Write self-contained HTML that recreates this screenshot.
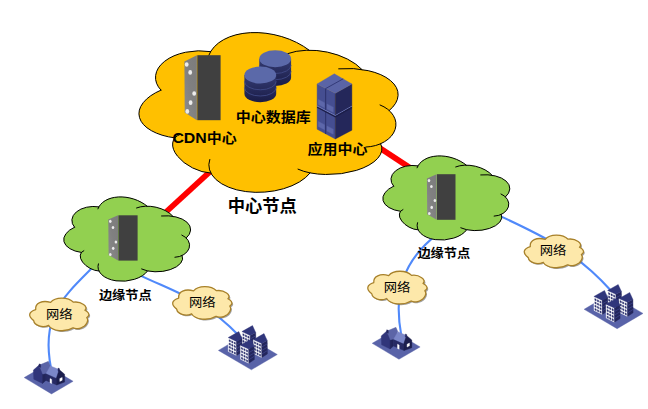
<!DOCTYPE html>
<html lang="zh-CN"><head><meta charset="utf-8"><title>CDN</title>
<style>
html,body{margin:0;padding:0;background:#fff;}
body{width:648px;height:409px;overflow:hidden;}
svg text{font-family:"Liberation Sans","Noto Sans CJK SC",sans-serif;fill:#000;}
</style></head><body>
<svg width="648" height="409" viewBox="0 0 648 409" style="display:block">
<defs>
<linearGradient id="sg" x1="0" y1="1" x2="1" y2="0"><stop offset="0" stop-color="#8c8c8c"/><stop offset="0.5" stop-color="#808080"/><stop offset="1" stop-color="#7c7c7c"/></linearGradient>
<linearGradient id="cg" x1="0" y1="0" x2="0" y2="1"><stop offset="0" stop-color="#343b72"/><stop offset="1" stop-color="#1a1c47"/></linearGradient>
<path id="cf" d="M160.97 90.14A43.08 25.93 178.36 0 1 210.58 51.60L210.58 51.60A61.82 39.31 -165.74 0 1 309.03 50.08L309.03 50.10A50.01 28.24 -170.07 0 1 361.92 69.47L361.93 69.46A54.31 28.09 177.27 0 1 389.22 110.49L389.24 110.48A30.97 22.36 178.51 0 1 380.67 143.77L380.67 143.79A48.47 22.47 175.67 0 1 310.16 172.93L310.16 172.91A53.03 29.15 176.67 0 1 210.69 173.06L210.71 173.06A29.51 16.50 -152.87 0 1 174.80 137.87L174.78 137.87A53.29 27.55 175.97 0 1 160.97 90.13Z" vector-effect="non-scaling-stroke"/>
<path id="cs" d="M160.97 90.14A43.08 25.93 178.36 0 1 210.58 51.60M208.79 55.34A61.82 39.31 -165.74 0 1 309.17 50.18M287.67 53.63A50.01 28.24 -170.07 0 1 361.92 69.47M338.69 68.80A54.31 28.09 177.27 0 1 389.22 110.49M380.05 104.96A30.97 22.36 178.51 0 1 366.00 147.02M380.67 143.79A48.47 22.47 175.67 0 1 298.02 169.19M310.16 172.91A53.03 29.15 176.67 0 1 209.76 159.47M210.71 173.06A29.51 16.50 -152.87 0 1 179.97 134.47M174.78 137.87A53.29 27.55 175.97 0 1 160.97 90.13" vector-effect="non-scaling-stroke" stroke-linecap="round"/>
<path id="bf" d="M528.30 257.50A23.09 9.03 -170.12 0 1 530.32 246.41L530.31 246.40A14.22 9.20 -157.35 0 1 545.20 239.30L545.20 239.30A13.18 8.36 -177.60 0 1 568.10 239.10L568.10 239.10A8.51 4.47 -167.67 0 1 579.50 247.10L579.50 247.10C579.92 247.38 581.33 248.12 582.00 248.80C582.67 249.48 583.32 250.53 583.50 251.20C583.68 251.87 583.45 252.27 583.10 252.80C582.75 253.33 581.68 254.13 581.40 254.40L581.40 254.40C581.55 254.78 582.25 255.87 582.30 256.70C582.35 257.53 582.07 258.53 581.70 259.40C581.33 260.27 580.60 261.28 580.10 261.90C579.60 262.52 578.93 262.90 578.70 263.10L578.70 263.10C578.23 263.37 576.92 264.28 575.90 264.70C574.88 265.12 573.72 265.50 572.60 265.60C571.48 265.70 570.03 265.45 569.20 265.30C568.37 265.15 567.87 264.80 567.60 264.70L567.60 264.70A14.75 8.61 177.10 0 1 543.14 262.19L543.11 262.21A9.19 6.10 -177.97 0 1 528.31 257.50Z"/>
<filter id="blur" x="-20%" y="-20%" width="140%" height="140%"><feGaussianBlur stdDeviation="0.7"/></filter>
</defs>
<rect width="648" height="409" fill="#fff"/>
<line x1="159.45" y1="218" x2="215.45" y2="166.7" stroke="#ff0000" stroke-width="5.7"/>
<line x1="372" y1="142.85" x2="416" y2="171.75" stroke="#ff0000" stroke-width="5.7"/>
<path d="M98.62 261.36 C63.99 296.48 40.29 313.73 51.09 368.70" fill="none" stroke="#5089fa" stroke-width="2.1" stroke-linecap="round"/>
<path d="M135.78 273.33 C176.49 292.99 204.85 299.78 238.52 335.32" fill="none" stroke="#5089fa" stroke-width="2.1" stroke-linecap="round"/>
<path d="M438.94 232.84 C402.07 260.94 393.31 293.09 401.41 336.32" fill="none" stroke="#5089fa" stroke-width="2.1" stroke-linecap="round"/>
<path d="M491.08 211.90 C540.83 234.52 574.97 250.43 611.56 291.26" fill="none" stroke="#5089fa" stroke-width="2.1" stroke-linecap="round"/>
<g transform="translate(138.940 32.350) scale(1.00000 1.00000) translate(-138.940 -32.350)"><use href="#cf" fill="#ffc000"/><use href="#cs" fill="none" stroke="#000" stroke-width="1.0"/></g>
<polygon points="184.40,61.60 196.90,55.20 196.90,120.20 184.70,112.40" fill="url(#sg)" /><rect x="197.30" y="55.20" width="23.30" height="65.00" fill="#404040"/><ellipse cx="186.70" cy="64.50" rx="1.88" ry="2.35" fill="#ececec"/><ellipse cx="190.20" cy="72.40" rx="1.88" ry="2.35" fill="#ececec"/><ellipse cx="194.20" cy="93.50" rx="1.88" ry="2.35" fill="#ececec"/><ellipse cx="190.60" cy="102.70" rx="1.88" ry="2.35" fill="#ececec"/><ellipse cx="187.30" cy="111.40" rx="1.88" ry="2.35" fill="#ececec"/>
<path d="M259.30 58.80 v18.60 a15.90 8.50 0 0 0 31.80 0 v-18.60 z" fill="url(#cg)"/><path d="M259.30 65.00 a15.90 8.50 0 0 0 31.80 0" fill="none" stroke="#434c8a" stroke-width="0.8"/><path d="M259.30 71.20 a15.90 8.50 0 0 0 31.80 0" fill="none" stroke="#434c8a" stroke-width="0.8"/><ellipse cx="275.20" cy="58.80" rx="15.90" ry="8.50" fill="#5b69a9"/>
<path d="M244.40 75.10 v18.60 a15.90 8.50 0 0 0 31.80 0 v-18.60 z" fill="url(#cg)"/><path d="M244.40 81.30 a15.90 8.50 0 0 0 31.80 0" fill="none" stroke="#434c8a" stroke-width="0.8"/><path d="M244.40 87.50 a15.90 8.50 0 0 0 31.80 0" fill="none" stroke="#434c8a" stroke-width="0.8"/><ellipse cx="260.30" cy="75.10" rx="15.90" ry="8.50" fill="#5b69a9"/>
<polygon points="317.10,84.00 335.30,93.30 335.30,139.00 317.10,129.20" fill="#454e91" stroke="#454e91" stroke-width="0.4" stroke-linejoin="round" /><polygon points="335.30,93.30 351.90,84.00 351.90,130.20 335.30,139.00" fill="#24275a" stroke="#24275a" stroke-width="0.4" stroke-linejoin="round" /><polygon points="317.10,84.00 334.30,73.80 351.90,84.00 335.30,93.30" fill="#5a64a6" stroke="#5a64a6" stroke-width="0.4" stroke-linejoin="round" /><line x1="325.6" y1="88.6" x2="343.2" y2="78.8" stroke="#333a78" stroke-width="1"/><line x1="325.6" y1="88.6" x2="325.6" y2="134" stroke="#2f3570" stroke-width="1.2"/><path d="M317.1 106 L335.3 115.6 L351.9 106.2" fill="none" stroke="#7580c0" stroke-width="0.9"/><path d="M317.1 107.2 L335.3 116.8 L351.9 107.4" fill="none" stroke="#1b1d48" stroke-width="1.3"/><polygon points="318.30,99.50 324.50,102.70 324.50,107.70 318.30,104.50" fill="#5d67aa" stroke="#5d67aa" stroke-width="0.4" stroke-linejoin="round" /><polygon points="327.00,104.00 333.20,107.20 333.20,112.20 327.00,109.00" fill="#5d67aa" stroke="#5d67aa" stroke-width="0.4" stroke-linejoin="round" /><polygon points="318.30,121.50 324.50,124.70 324.50,129.70 318.30,126.50" fill="#5d67aa" stroke="#5d67aa" stroke-width="0.4" stroke-linejoin="round" /><polygon points="327.00,126.00 333.20,129.20 333.20,134.20 327.00,131.00" fill="#5d67aa" stroke="#5d67aa" stroke-width="0.4" stroke-linejoin="round" />
<g transform="translate(63.700 196.700) scale(0.48991 0.52833) translate(-138.940 -32.350)"><use href="#cf" fill="#92d050"/><use href="#cs" fill="none" stroke="#000" stroke-width="1.0"/></g>
<g transform="translate(382.800 155.700) scale(0.49030 0.52708) translate(-138.940 -32.350)"><use href="#cf" fill="#92d050"/><use href="#cs" fill="none" stroke="#000" stroke-width="1.0"/></g>
<polygon points="108.30,219.60 118.00,215.30 118.00,260.60 108.60,255.00" fill="url(#sg)" /><rect x="118.40" y="215.30" width="19.20" height="45.30" fill="#404040"/><ellipse cx="110.30" cy="221.30" rx="1.28" ry="1.60" fill="#ececec"/><ellipse cx="113.00" cy="227.50" rx="1.28" ry="1.60" fill="#ececec"/><ellipse cx="115.90" cy="242.00" rx="1.28" ry="1.60" fill="#ececec"/><ellipse cx="113.20" cy="248.30" rx="1.28" ry="1.60" fill="#ececec"/><ellipse cx="110.30" cy="254.50" rx="1.28" ry="1.60" fill="#ececec"/>
<polygon points="426.90,178.50 436.60,174.20 436.60,219.80 427.20,214.30" fill="url(#sg)" /><rect x="437.00" y="174.20" width="18.50" height="45.60" fill="#404040"/><ellipse cx="429.00" cy="180.60" rx="1.28" ry="1.60" fill="#ececec"/><ellipse cx="431.40" cy="186.50" rx="1.28" ry="1.60" fill="#ececec"/><ellipse cx="434.90" cy="200.50" rx="1.28" ry="1.60" fill="#ececec"/><ellipse cx="431.70" cy="207.40" rx="1.28" ry="1.60" fill="#ececec"/><ellipse cx="429.30" cy="213.50" rx="1.28" ry="1.60" fill="#ececec"/>
<g transform="translate(-494.60 63.10)"><use href="#bf" fill="#666" opacity="0.6" transform="translate(1.2 1.3)" filter="url(#blur)"/><use href="#bf" fill="#fde8aa" stroke="#a8812a" stroke-width="1.3" stroke-linejoin="round"/></g>
<text transform="translate(59.30 318.80) scale(1.080 1)" font-size="12.3" font-weight="normal" text-anchor="middle">网络</text>
<g transform="translate(-351.60 51.60)"><use href="#bf" fill="#666" opacity="0.6" transform="translate(1.2 1.3)" filter="url(#blur)"/><use href="#bf" fill="#fde8aa" stroke="#a8812a" stroke-width="1.3" stroke-linejoin="round"/></g>
<text transform="translate(202.20 306.80) scale(1.080 1)" font-size="12.3" font-weight="normal" text-anchor="middle">网络</text>
<g transform="translate(-156.50 36.30)"><use href="#bf" fill="#666" opacity="0.6" transform="translate(1.2 1.3)" filter="url(#blur)"/><use href="#bf" fill="#fde8aa" stroke="#a8812a" stroke-width="1.3" stroke-linejoin="round"/></g>
<text transform="translate(397.10 291.70) scale(1.080 1)" font-size="12.3" font-weight="normal" text-anchor="middle">网络</text>
<g transform="translate(0.00 0.10)"><use href="#bf" fill="#666" opacity="0.6" transform="translate(1.2 1.3)" filter="url(#blur)"/><use href="#bf" fill="#fde8aa" stroke="#a8812a" stroke-width="1.3" stroke-linejoin="round"/></g>
<text transform="translate(553.10 255.30) scale(1.080 1)" font-size="12.3" font-weight="normal" text-anchor="middle">网络</text>
<polygon points="24.20,377.60 45.80,365.00 73.10,381.30 51.50,393.90" fill="#5963a8" stroke="#5963a8" stroke-width="0.4" stroke-linejoin="round" /><polygon points="38.80,365.30 48.40,361.30 50.40,365.90 45.90,373.80 42.50,374.60" fill="#5c65a7" stroke="#5c65a7" stroke-width="0.4" stroke-linejoin="round" /><polygon points="33.40,370.10 38.80,365.30 42.50,374.60 42.50,383.40 33.80,379.20" fill="#30357a" stroke="#30357a" stroke-width="0.4" stroke-linejoin="round" /><polygon points="42.50,374.60 45.90,373.80 45.90,380.40 42.50,383.40" fill="#22255a" stroke="#22255a" stroke-width="0.4" stroke-linejoin="round" /><polygon points="50.40,365.90 59.20,369.60 56.30,378.40 45.90,373.80" fill="#7b87c8" stroke="#7b87c8" stroke-width="0.4" stroke-linejoin="round" /><polygon points="45.90,373.80 56.30,378.40 56.70,385.00 45.90,380.40" fill="#272a63" stroke="#272a63" stroke-width="0.4" stroke-linejoin="round" /><polygon points="56.30,378.40 59.20,369.60 64.60,374.20 64.60,382.10 56.70,385.00" fill="#1c1e4d" stroke="#1c1e4d" stroke-width="0.4" stroke-linejoin="round" /><polygon points="50.00,378.60 51.70,379.40 51.70,383.60 50.00,382.80" fill="#ffffff" stroke="#ffffff" stroke-width="0.4" stroke-linejoin="round" /><polygon points="59.80,378.60 62.20,377.40 62.20,380.20 59.80,381.40" fill="#ffffff" stroke="#ffffff" stroke-width="0.4" stroke-linejoin="round" /><polygon points="39.00,363.90 40.60,364.30 40.60,367.40 39.00,366.70" fill="#23265e" stroke="#23265e" stroke-width="0.4" stroke-linejoin="round" /><polygon points="58.00,368.10 59.40,368.60 59.40,371.90 58.00,371.20" fill="#23265e" stroke="#23265e" stroke-width="0.4" stroke-linejoin="round" />
<polygon points="372.20,343.30 393.37,330.95 420.12,346.93 398.95,359.27" fill="#5963a8" stroke="#5963a8" stroke-width="0.4" stroke-linejoin="round" /><polygon points="386.51,331.25 395.92,327.33 397.88,331.83 393.47,339.58 390.13,340.36" fill="#5c65a7" stroke="#5c65a7" stroke-width="0.4" stroke-linejoin="round" /><polygon points="381.22,335.95 386.51,331.25 390.13,340.36 390.13,348.98 381.61,344.87" fill="#30357a" stroke="#30357a" stroke-width="0.4" stroke-linejoin="round" /><polygon points="390.13,340.36 393.47,339.58 393.47,346.04 390.13,348.98" fill="#22255a" stroke="#22255a" stroke-width="0.4" stroke-linejoin="round" /><polygon points="397.88,331.83 406.50,335.46 403.66,344.08 393.47,339.58" fill="#7b87c8" stroke="#7b87c8" stroke-width="0.4" stroke-linejoin="round" /><polygon points="393.47,339.58 403.66,344.08 404.05,350.55 393.47,346.04" fill="#272a63" stroke="#272a63" stroke-width="0.4" stroke-linejoin="round" /><polygon points="403.66,344.08 406.50,335.46 411.79,339.97 411.79,347.71 404.05,350.55" fill="#1c1e4d" stroke="#1c1e4d" stroke-width="0.4" stroke-linejoin="round" /><polygon points="397.48,344.28 399.15,345.06 399.15,349.18 397.48,348.40" fill="#ffffff" stroke="#ffffff" stroke-width="0.4" stroke-linejoin="round" /><polygon points="407.09,344.28 409.44,343.10 409.44,345.85 407.09,347.02" fill="#ffffff" stroke="#ffffff" stroke-width="0.4" stroke-linejoin="round" /><polygon points="386.70,329.87 388.27,330.27 388.27,333.30 386.70,332.62" fill="#23265e" stroke="#23265e" stroke-width="0.4" stroke-linejoin="round" /><polygon points="405.32,333.99 406.70,334.48 406.70,337.71 405.32,337.03" fill="#23265e" stroke="#23265e" stroke-width="0.4" stroke-linejoin="round" />
<polygon points="218.40,350.40 244.30,335.10 277.30,354.50 251.40,369.80" fill="#5963a8" stroke="#5963a8" stroke-width="0.4" stroke-linejoin="round" /><polygon points="241.90,331.60 250.20,335.40 250.30,349.60 242.00,345.50" fill="#ffffff" stroke="#ffffff" stroke-width="0.4" stroke-linejoin="round" /><polygon points="250.20,335.40 255.70,332.50 255.90,345.90 250.30,349.60" fill="#23265c" stroke="#23265c" stroke-width="0.4" stroke-linejoin="round" /><polygon points="242.83,333.69 244.15,334.30 244.17,335.98 242.84,335.36" fill="#2b2f6e" stroke="#2b2f6e" stroke-width="0.4" stroke-linejoin="round" /><polygon points="245.31,334.84 246.64,335.45 246.66,337.14 245.33,336.52" fill="#2b2f6e" stroke="#2b2f6e" stroke-width="0.4" stroke-linejoin="round" /><polygon points="247.81,335.99 249.13,336.61 249.15,338.30 247.82,337.69" fill="#2b2f6e" stroke="#2b2f6e" stroke-width="0.4" stroke-linejoin="round" /><polygon points="242.85,336.96 244.18,337.59 244.19,339.27 242.86,338.64" fill="#2b2f6e" stroke="#2b2f6e" stroke-width="0.4" stroke-linejoin="round" /><polygon points="245.34,338.14 246.67,338.76 246.68,340.45 245.35,339.82" fill="#2b2f6e" stroke="#2b2f6e" stroke-width="0.4" stroke-linejoin="round" /><polygon points="247.83,339.31 249.16,339.93 249.17,341.63 247.84,341.00" fill="#2b2f6e" stroke="#2b2f6e" stroke-width="0.4" stroke-linejoin="round" /><polygon points="242.87,340.24 244.20,340.87 244.21,342.55 242.88,341.91" fill="#2b2f6e" stroke="#2b2f6e" stroke-width="0.4" stroke-linejoin="round" /><polygon points="245.36,341.43 246.69,342.07 246.70,343.76 245.37,343.11" fill="#2b2f6e" stroke="#2b2f6e" stroke-width="0.4" stroke-linejoin="round" /><polygon points="247.85,342.62 249.18,343.26 249.19,344.96 247.86,344.32" fill="#2b2f6e" stroke="#2b2f6e" stroke-width="0.4" stroke-linejoin="round" /><polygon points="242.90,343.51 244.22,344.16 244.24,345.84 242.91,345.18" fill="#2b2f6e" stroke="#2b2f6e" stroke-width="0.4" stroke-linejoin="round" /><polygon points="245.39,344.73 246.71,345.37 246.73,347.06 245.40,346.41" fill="#2b2f6e" stroke="#2b2f6e" stroke-width="0.4" stroke-linejoin="round" /><polygon points="247.88,345.94 249.20,346.59 249.22,348.29 247.89,347.63" fill="#2b2f6e" stroke="#2b2f6e" stroke-width="0.4" stroke-linejoin="round" /><line x1="250.23" y1="338.95" x2="255.75" y2="335.85" stroke="#3a4085" stroke-width="0.9"/><line x1="250.25" y1="342.50" x2="255.80" y2="339.20" stroke="#3a4085" stroke-width="0.9"/><line x1="250.28" y1="346.05" x2="255.85" y2="342.55" stroke="#3a4085" stroke-width="0.9"/><polygon points="241.90,331.60 252.50,325.60 255.70,332.50 250.20,335.40" fill="#30367b" stroke="#30367b" stroke-width="0.4" stroke-linejoin="round" /><polygon points="228.20,337.60 236.50,341.40 236.60,355.60 228.30,351.50" fill="#ffffff" stroke="#ffffff" stroke-width="0.4" stroke-linejoin="round" /><polygon points="236.50,341.40 242.00,338.50 242.20,351.90 236.60,355.60" fill="#23265c" stroke="#23265c" stroke-width="0.4" stroke-linejoin="round" /><polygon points="229.13,339.69 230.45,340.30 230.47,341.98 229.14,341.36" fill="#2b2f6e" stroke="#2b2f6e" stroke-width="0.4" stroke-linejoin="round" /><polygon points="231.62,340.84 232.94,341.45 232.96,343.14 231.63,342.52" fill="#2b2f6e" stroke="#2b2f6e" stroke-width="0.4" stroke-linejoin="round" /><polygon points="234.11,341.99 235.43,342.61 235.45,344.30 234.12,343.69" fill="#2b2f6e" stroke="#2b2f6e" stroke-width="0.4" stroke-linejoin="round" /><polygon points="229.15,342.96 230.48,343.59 230.49,345.27 229.16,344.64" fill="#2b2f6e" stroke="#2b2f6e" stroke-width="0.4" stroke-linejoin="round" /><polygon points="231.64,344.14 232.97,344.76 232.98,346.45 231.65,345.82" fill="#2b2f6e" stroke="#2b2f6e" stroke-width="0.4" stroke-linejoin="round" /><polygon points="234.13,345.31 235.46,345.93 235.47,347.63 234.14,347.00" fill="#2b2f6e" stroke="#2b2f6e" stroke-width="0.4" stroke-linejoin="round" /><polygon points="229.17,346.24 230.50,346.87 230.51,348.55 229.18,347.91" fill="#2b2f6e" stroke="#2b2f6e" stroke-width="0.4" stroke-linejoin="round" /><polygon points="231.66,347.43 232.99,348.07 233.00,349.76 231.67,349.11" fill="#2b2f6e" stroke="#2b2f6e" stroke-width="0.4" stroke-linejoin="round" /><polygon points="234.15,348.62 235.48,349.26 235.49,350.96 234.16,350.32" fill="#2b2f6e" stroke="#2b2f6e" stroke-width="0.4" stroke-linejoin="round" /><polygon points="229.20,349.51 230.52,350.16 230.54,351.84 229.21,351.18" fill="#2b2f6e" stroke="#2b2f6e" stroke-width="0.4" stroke-linejoin="round" /><polygon points="231.69,350.73 233.01,351.37 233.03,353.06 231.70,352.41" fill="#2b2f6e" stroke="#2b2f6e" stroke-width="0.4" stroke-linejoin="round" /><polygon points="234.18,351.94 235.50,352.59 235.52,354.29 234.19,353.63" fill="#2b2f6e" stroke="#2b2f6e" stroke-width="0.4" stroke-linejoin="round" /><line x1="236.53" y1="344.95" x2="242.05" y2="341.85" stroke="#3a4085" stroke-width="0.9"/><line x1="236.55" y1="348.50" x2="242.10" y2="345.20" stroke="#3a4085" stroke-width="0.9"/><line x1="236.58" y1="352.05" x2="242.15" y2="348.55" stroke="#3a4085" stroke-width="0.9"/><polygon points="228.20,337.60 238.80,331.60 242.00,338.50 236.50,341.40" fill="#30367b" stroke="#30367b" stroke-width="0.4" stroke-linejoin="round" /><polygon points="253.40,339.60 261.70,343.40 261.80,357.60 253.50,353.50" fill="#ffffff" stroke="#ffffff" stroke-width="0.4" stroke-linejoin="round" /><polygon points="261.70,343.40 267.20,340.50 267.40,353.90 261.80,357.60" fill="#23265c" stroke="#23265c" stroke-width="0.4" stroke-linejoin="round" /><polygon points="254.33,341.69 255.65,342.30 255.67,343.98 254.34,343.36" fill="#2b2f6e" stroke="#2b2f6e" stroke-width="0.4" stroke-linejoin="round" /><polygon points="256.81,342.84 258.14,343.45 258.16,345.14 256.83,344.52" fill="#2b2f6e" stroke="#2b2f6e" stroke-width="0.4" stroke-linejoin="round" /><polygon points="259.31,343.99 260.63,344.61 260.64,346.30 259.32,345.69" fill="#2b2f6e" stroke="#2b2f6e" stroke-width="0.4" stroke-linejoin="round" /><polygon points="254.35,344.96 255.68,345.59 255.69,347.27 254.36,346.64" fill="#2b2f6e" stroke="#2b2f6e" stroke-width="0.4" stroke-linejoin="round" /><polygon points="256.84,346.14 258.17,346.76 258.18,348.45 256.85,347.82" fill="#2b2f6e" stroke="#2b2f6e" stroke-width="0.4" stroke-linejoin="round" /><polygon points="259.33,347.31 260.66,347.93 260.67,349.63 259.34,349.00" fill="#2b2f6e" stroke="#2b2f6e" stroke-width="0.4" stroke-linejoin="round" /><polygon points="254.37,348.24 255.70,348.87 255.71,350.55 254.38,349.91" fill="#2b2f6e" stroke="#2b2f6e" stroke-width="0.4" stroke-linejoin="round" /><polygon points="256.86,349.43 258.19,350.07 258.20,351.76 256.87,351.11" fill="#2b2f6e" stroke="#2b2f6e" stroke-width="0.4" stroke-linejoin="round" /><polygon points="259.35,350.62 260.68,351.26 260.69,352.96 259.36,352.32" fill="#2b2f6e" stroke="#2b2f6e" stroke-width="0.4" stroke-linejoin="round" /><polygon points="254.40,351.51 255.72,352.16 255.74,353.84 254.41,353.18" fill="#2b2f6e" stroke="#2b2f6e" stroke-width="0.4" stroke-linejoin="round" /><polygon points="256.89,352.73 258.21,353.37 258.23,355.06 256.90,354.41" fill="#2b2f6e" stroke="#2b2f6e" stroke-width="0.4" stroke-linejoin="round" /><polygon points="259.38,353.94 260.70,354.59 260.72,356.29 259.39,355.63" fill="#2b2f6e" stroke="#2b2f6e" stroke-width="0.4" stroke-linejoin="round" /><line x1="261.72" y1="346.95" x2="267.25" y2="343.85" stroke="#3a4085" stroke-width="0.9"/><line x1="261.75" y1="350.50" x2="267.30" y2="347.20" stroke="#3a4085" stroke-width="0.9"/><line x1="261.77" y1="354.05" x2="267.35" y2="350.55" stroke="#3a4085" stroke-width="0.9"/><polygon points="253.40,339.60 264.00,333.60 267.20,340.50 261.70,343.40" fill="#30367b" stroke="#30367b" stroke-width="0.4" stroke-linejoin="round" /><polygon points="240.40,345.30 248.70,349.10 248.80,363.30 240.50,359.20" fill="#ffffff" stroke="#ffffff" stroke-width="0.4" stroke-linejoin="round" /><polygon points="248.70,349.10 254.20,346.20 254.40,359.60 248.80,363.30" fill="#23265c" stroke="#23265c" stroke-width="0.4" stroke-linejoin="round" /><polygon points="241.33,347.39 242.65,348.00 242.67,349.68 241.34,349.06" fill="#2b2f6e" stroke="#2b2f6e" stroke-width="0.4" stroke-linejoin="round" /><polygon points="243.81,348.54 245.14,349.15 245.16,350.84 243.83,350.22" fill="#2b2f6e" stroke="#2b2f6e" stroke-width="0.4" stroke-linejoin="round" /><polygon points="246.31,349.69 247.63,350.31 247.65,352.00 246.32,351.39" fill="#2b2f6e" stroke="#2b2f6e" stroke-width="0.4" stroke-linejoin="round" /><polygon points="241.35,350.66 242.68,351.29 242.69,352.97 241.36,352.34" fill="#2b2f6e" stroke="#2b2f6e" stroke-width="0.4" stroke-linejoin="round" /><polygon points="243.84,351.84 245.17,352.46 245.18,354.15 243.85,353.52" fill="#2b2f6e" stroke="#2b2f6e" stroke-width="0.4" stroke-linejoin="round" /><polygon points="246.33,353.01 247.66,353.63 247.67,355.33 246.34,354.70" fill="#2b2f6e" stroke="#2b2f6e" stroke-width="0.4" stroke-linejoin="round" /><polygon points="241.37,353.94 242.70,354.57 242.71,356.25 241.38,355.61" fill="#2b2f6e" stroke="#2b2f6e" stroke-width="0.4" stroke-linejoin="round" /><polygon points="243.86,355.13 245.19,355.77 245.20,357.46 243.87,356.81" fill="#2b2f6e" stroke="#2b2f6e" stroke-width="0.4" stroke-linejoin="round" /><polygon points="246.35,356.32 247.68,356.96 247.69,358.66 246.36,358.02" fill="#2b2f6e" stroke="#2b2f6e" stroke-width="0.4" stroke-linejoin="round" /><polygon points="241.40,357.21 242.72,357.86 242.74,359.54 241.41,358.88" fill="#2b2f6e" stroke="#2b2f6e" stroke-width="0.4" stroke-linejoin="round" /><polygon points="243.89,358.43 245.21,359.07 245.23,360.76 243.90,360.11" fill="#2b2f6e" stroke="#2b2f6e" stroke-width="0.4" stroke-linejoin="round" /><polygon points="246.38,359.64 247.70,360.29 247.72,361.99 246.39,361.33" fill="#2b2f6e" stroke="#2b2f6e" stroke-width="0.4" stroke-linejoin="round" /><line x1="248.73" y1="352.65" x2="254.25" y2="349.55" stroke="#3a4085" stroke-width="0.9"/><line x1="248.75" y1="356.20" x2="254.30" y2="352.90" stroke="#3a4085" stroke-width="0.9"/><line x1="248.78" y1="359.75" x2="254.35" y2="356.25" stroke="#3a4085" stroke-width="0.9"/><polygon points="240.40,345.30 251.00,339.30 254.20,346.20 248.70,349.10" fill="#30367b" stroke="#30367b" stroke-width="0.4" stroke-linejoin="round" />
<polygon points="584.10,309.30 610.00,294.00 643.00,313.40 617.10,328.70" fill="#5963a8" stroke="#5963a8" stroke-width="0.4" stroke-linejoin="round" /><polygon points="607.60,290.50 615.90,294.30 616.00,308.50 607.70,304.40" fill="#ffffff" stroke="#ffffff" stroke-width="0.4" stroke-linejoin="round" /><polygon points="615.90,294.30 621.40,291.40 621.60,304.80 616.00,308.50" fill="#23265c" stroke="#23265c" stroke-width="0.4" stroke-linejoin="round" /><polygon points="608.52,292.59 609.85,293.20 609.87,294.88 608.54,294.26" fill="#2b2f6e" stroke="#2b2f6e" stroke-width="0.4" stroke-linejoin="round" /><polygon points="611.01,293.74 612.34,294.35 612.36,296.04 611.03,295.42" fill="#2b2f6e" stroke="#2b2f6e" stroke-width="0.4" stroke-linejoin="round" /><polygon points="613.50,294.89 614.83,295.51 614.85,297.20 613.52,296.59" fill="#2b2f6e" stroke="#2b2f6e" stroke-width="0.4" stroke-linejoin="round" /><polygon points="608.55,295.86 609.88,296.49 609.89,298.17 608.56,297.54" fill="#2b2f6e" stroke="#2b2f6e" stroke-width="0.4" stroke-linejoin="round" /><polygon points="611.04,297.04 612.37,297.66 612.38,299.35 611.05,298.72" fill="#2b2f6e" stroke="#2b2f6e" stroke-width="0.4" stroke-linejoin="round" /><polygon points="613.53,298.21 614.86,298.83 614.87,300.53 613.54,299.90" fill="#2b2f6e" stroke="#2b2f6e" stroke-width="0.4" stroke-linejoin="round" /><polygon points="608.57,299.14 609.90,299.77 609.91,301.45 608.58,300.81" fill="#2b2f6e" stroke="#2b2f6e" stroke-width="0.4" stroke-linejoin="round" /><polygon points="611.06,300.33 612.39,300.97 612.40,302.66 611.07,302.01" fill="#2b2f6e" stroke="#2b2f6e" stroke-width="0.4" stroke-linejoin="round" /><polygon points="613.55,301.52 614.88,302.16 614.89,303.86 613.56,303.22" fill="#2b2f6e" stroke="#2b2f6e" stroke-width="0.4" stroke-linejoin="round" /><polygon points="608.60,302.41 609.92,303.06 609.94,304.74 608.61,304.08" fill="#2b2f6e" stroke="#2b2f6e" stroke-width="0.4" stroke-linejoin="round" /><polygon points="611.09,303.63 612.41,304.27 612.43,305.96 611.10,305.31" fill="#2b2f6e" stroke="#2b2f6e" stroke-width="0.4" stroke-linejoin="round" /><polygon points="613.58,304.84 614.90,305.49 614.92,307.19 613.59,306.53" fill="#2b2f6e" stroke="#2b2f6e" stroke-width="0.4" stroke-linejoin="round" /><line x1="615.92" y1="297.85" x2="621.45" y2="294.75" stroke="#3a4085" stroke-width="0.9"/><line x1="615.95" y1="301.40" x2="621.50" y2="298.10" stroke="#3a4085" stroke-width="0.9"/><line x1="615.98" y1="304.95" x2="621.55" y2="301.45" stroke="#3a4085" stroke-width="0.9"/><polygon points="607.60,290.50 618.20,284.50 621.40,291.40 615.90,294.30" fill="#30367b" stroke="#30367b" stroke-width="0.4" stroke-linejoin="round" /><polygon points="593.90,296.50 602.20,300.30 602.30,314.50 594.00,310.40" fill="#ffffff" stroke="#ffffff" stroke-width="0.4" stroke-linejoin="round" /><polygon points="602.20,300.30 607.70,297.40 607.90,310.80 602.30,314.50" fill="#23265c" stroke="#23265c" stroke-width="0.4" stroke-linejoin="round" /><polygon points="594.82,298.59 596.15,299.20 596.16,300.88 594.84,300.26" fill="#2b2f6e" stroke="#2b2f6e" stroke-width="0.4" stroke-linejoin="round" /><polygon points="597.31,299.74 598.64,300.35 598.65,302.04 597.33,301.42" fill="#2b2f6e" stroke="#2b2f6e" stroke-width="0.4" stroke-linejoin="round" /><polygon points="599.80,300.89 601.13,301.51 601.14,303.20 599.82,302.59" fill="#2b2f6e" stroke="#2b2f6e" stroke-width="0.4" stroke-linejoin="round" /><polygon points="594.85,301.86 596.18,302.49 596.19,304.17 594.86,303.54" fill="#2b2f6e" stroke="#2b2f6e" stroke-width="0.4" stroke-linejoin="round" /><polygon points="597.34,303.04 598.67,303.66 598.68,305.35 597.35,304.72" fill="#2b2f6e" stroke="#2b2f6e" stroke-width="0.4" stroke-linejoin="round" /><polygon points="599.83,304.21 601.16,304.83 601.17,306.53 599.84,305.90" fill="#2b2f6e" stroke="#2b2f6e" stroke-width="0.4" stroke-linejoin="round" /><polygon points="594.87,305.14 596.20,305.77 596.21,307.45 594.88,306.81" fill="#2b2f6e" stroke="#2b2f6e" stroke-width="0.4" stroke-linejoin="round" /><polygon points="597.36,306.33 598.69,306.97 598.70,308.66 597.37,308.01" fill="#2b2f6e" stroke="#2b2f6e" stroke-width="0.4" stroke-linejoin="round" /><polygon points="599.85,307.52 601.18,308.16 601.19,309.86 599.86,309.22" fill="#2b2f6e" stroke="#2b2f6e" stroke-width="0.4" stroke-linejoin="round" /><polygon points="594.90,308.41 596.22,309.06 596.24,310.74 594.91,310.08" fill="#2b2f6e" stroke="#2b2f6e" stroke-width="0.4" stroke-linejoin="round" /><polygon points="597.39,309.63 598.71,310.27 598.73,311.96 597.40,311.31" fill="#2b2f6e" stroke="#2b2f6e" stroke-width="0.4" stroke-linejoin="round" /><polygon points="599.88,310.84 601.20,311.49 601.22,313.19 599.89,312.53" fill="#2b2f6e" stroke="#2b2f6e" stroke-width="0.4" stroke-linejoin="round" /><line x1="602.22" y1="303.85" x2="607.75" y2="300.75" stroke="#3a4085" stroke-width="0.9"/><line x1="602.25" y1="307.40" x2="607.80" y2="304.10" stroke="#3a4085" stroke-width="0.9"/><line x1="602.27" y1="310.95" x2="607.85" y2="307.45" stroke="#3a4085" stroke-width="0.9"/><polygon points="593.90,296.50 604.50,290.50 607.70,297.40 602.20,300.30" fill="#30367b" stroke="#30367b" stroke-width="0.4" stroke-linejoin="round" /><polygon points="619.10,298.50 627.40,302.30 627.50,316.50 619.20,312.40" fill="#ffffff" stroke="#ffffff" stroke-width="0.4" stroke-linejoin="round" /><polygon points="627.40,302.30 632.90,299.40 633.10,312.80 627.50,316.50" fill="#23265c" stroke="#23265c" stroke-width="0.4" stroke-linejoin="round" /><polygon points="620.02,300.59 621.35,301.20 621.37,302.88 620.04,302.26" fill="#2b2f6e" stroke="#2b2f6e" stroke-width="0.4" stroke-linejoin="round" /><polygon points="622.51,301.74 623.84,302.35 623.86,304.04 622.53,303.42" fill="#2b2f6e" stroke="#2b2f6e" stroke-width="0.4" stroke-linejoin="round" /><polygon points="625.00,302.89 626.33,303.51 626.35,305.20 625.02,304.59" fill="#2b2f6e" stroke="#2b2f6e" stroke-width="0.4" stroke-linejoin="round" /><polygon points="620.05,303.86 621.38,304.49 621.39,306.17 620.06,305.54" fill="#2b2f6e" stroke="#2b2f6e" stroke-width="0.4" stroke-linejoin="round" /><polygon points="622.54,305.04 623.87,305.66 623.88,307.35 622.55,306.72" fill="#2b2f6e" stroke="#2b2f6e" stroke-width="0.4" stroke-linejoin="round" /><polygon points="625.03,306.21 626.36,306.83 626.37,308.53 625.04,307.90" fill="#2b2f6e" stroke="#2b2f6e" stroke-width="0.4" stroke-linejoin="round" /><polygon points="620.07,307.14 621.40,307.77 621.41,309.45 620.08,308.81" fill="#2b2f6e" stroke="#2b2f6e" stroke-width="0.4" stroke-linejoin="round" /><polygon points="622.56,308.33 623.89,308.97 623.90,310.66 622.57,310.01" fill="#2b2f6e" stroke="#2b2f6e" stroke-width="0.4" stroke-linejoin="round" /><polygon points="625.05,309.52 626.38,310.16 626.39,311.86 625.06,311.22" fill="#2b2f6e" stroke="#2b2f6e" stroke-width="0.4" stroke-linejoin="round" /><polygon points="620.10,310.41 621.42,311.06 621.44,312.74 620.11,312.08" fill="#2b2f6e" stroke="#2b2f6e" stroke-width="0.4" stroke-linejoin="round" /><polygon points="622.59,311.63 623.91,312.27 623.93,313.96 622.60,313.31" fill="#2b2f6e" stroke="#2b2f6e" stroke-width="0.4" stroke-linejoin="round" /><polygon points="625.08,312.84 626.40,313.49 626.42,315.19 625.09,314.53" fill="#2b2f6e" stroke="#2b2f6e" stroke-width="0.4" stroke-linejoin="round" /><line x1="627.42" y1="305.85" x2="632.95" y2="302.75" stroke="#3a4085" stroke-width="0.9"/><line x1="627.45" y1="309.40" x2="633.00" y2="306.10" stroke="#3a4085" stroke-width="0.9"/><line x1="627.48" y1="312.95" x2="633.05" y2="309.45" stroke="#3a4085" stroke-width="0.9"/><polygon points="619.10,298.50 629.70,292.50 632.90,299.40 627.40,302.30" fill="#30367b" stroke="#30367b" stroke-width="0.4" stroke-linejoin="round" /><polygon points="606.10,304.20 614.40,308.00 614.50,322.20 606.20,318.10" fill="#ffffff" stroke="#ffffff" stroke-width="0.4" stroke-linejoin="round" /><polygon points="614.40,308.00 619.90,305.10 620.10,318.50 614.50,322.20" fill="#23265c" stroke="#23265c" stroke-width="0.4" stroke-linejoin="round" /><polygon points="607.02,306.29 608.35,306.90 608.37,308.58 607.04,307.96" fill="#2b2f6e" stroke="#2b2f6e" stroke-width="0.4" stroke-linejoin="round" /><polygon points="609.51,307.44 610.84,308.05 610.86,309.74 609.53,309.12" fill="#2b2f6e" stroke="#2b2f6e" stroke-width="0.4" stroke-linejoin="round" /><polygon points="612.00,308.59 613.33,309.21 613.35,310.90 612.02,310.29" fill="#2b2f6e" stroke="#2b2f6e" stroke-width="0.4" stroke-linejoin="round" /><polygon points="607.05,309.56 608.38,310.19 608.39,311.87 607.06,311.24" fill="#2b2f6e" stroke="#2b2f6e" stroke-width="0.4" stroke-linejoin="round" /><polygon points="609.54,310.74 610.87,311.36 610.88,313.05 609.55,312.42" fill="#2b2f6e" stroke="#2b2f6e" stroke-width="0.4" stroke-linejoin="round" /><polygon points="612.03,311.91 613.36,312.53 613.37,314.23 612.04,313.60" fill="#2b2f6e" stroke="#2b2f6e" stroke-width="0.4" stroke-linejoin="round" /><polygon points="607.07,312.84 608.40,313.47 608.41,315.15 607.08,314.51" fill="#2b2f6e" stroke="#2b2f6e" stroke-width="0.4" stroke-linejoin="round" /><polygon points="609.56,314.03 610.89,314.67 610.90,316.36 609.57,315.71" fill="#2b2f6e" stroke="#2b2f6e" stroke-width="0.4" stroke-linejoin="round" /><polygon points="612.05,315.22 613.38,315.86 613.39,317.56 612.06,316.92" fill="#2b2f6e" stroke="#2b2f6e" stroke-width="0.4" stroke-linejoin="round" /><polygon points="607.10,316.11 608.42,316.76 608.44,318.44 607.11,317.78" fill="#2b2f6e" stroke="#2b2f6e" stroke-width="0.4" stroke-linejoin="round" /><polygon points="609.59,317.33 610.91,317.97 610.93,319.66 609.60,319.01" fill="#2b2f6e" stroke="#2b2f6e" stroke-width="0.4" stroke-linejoin="round" /><polygon points="612.08,318.54 613.40,319.19 613.42,320.89 612.09,320.23" fill="#2b2f6e" stroke="#2b2f6e" stroke-width="0.4" stroke-linejoin="round" /><line x1="614.42" y1="311.55" x2="619.95" y2="308.45" stroke="#3a4085" stroke-width="0.9"/><line x1="614.45" y1="315.10" x2="620.00" y2="311.80" stroke="#3a4085" stroke-width="0.9"/><line x1="614.48" y1="318.65" x2="620.05" y2="315.15" stroke="#3a4085" stroke-width="0.9"/><polygon points="606.10,304.20 616.70,298.20 619.90,305.10 614.40,308.00" fill="#30367b" stroke="#30367b" stroke-width="0.4" stroke-linejoin="round" />
<text transform="translate(227.70 212.30) scale(1.000 1)" font-size="17.3" font-weight="bold" text-anchor="start">中心节点</text>
<text transform="translate(172.40 142.50) scale(1.087 1)" font-size="13.8" font-weight="bold" text-anchor="start"><tspan font-size="14.6">CDN</tspan>中心</text>
<text transform="translate(235.70 122.10) scale(1.087 1)" font-size="13.8" font-weight="bold" text-anchor="start">中心数据库</text>
<text transform="translate(307.60 153.70) scale(1.087 1)" font-size="13.8" font-weight="bold" text-anchor="start">应用中心</text>
<text transform="translate(98.90 299.50) scale(1.082 1)" font-size="12.2" font-weight="bold" text-anchor="start">边缘节点</text>
<text transform="translate(417.40 258.10) scale(1.082 1)" font-size="12.2" font-weight="bold" text-anchor="start">边缘节点</text>
</svg>
</body></html>
